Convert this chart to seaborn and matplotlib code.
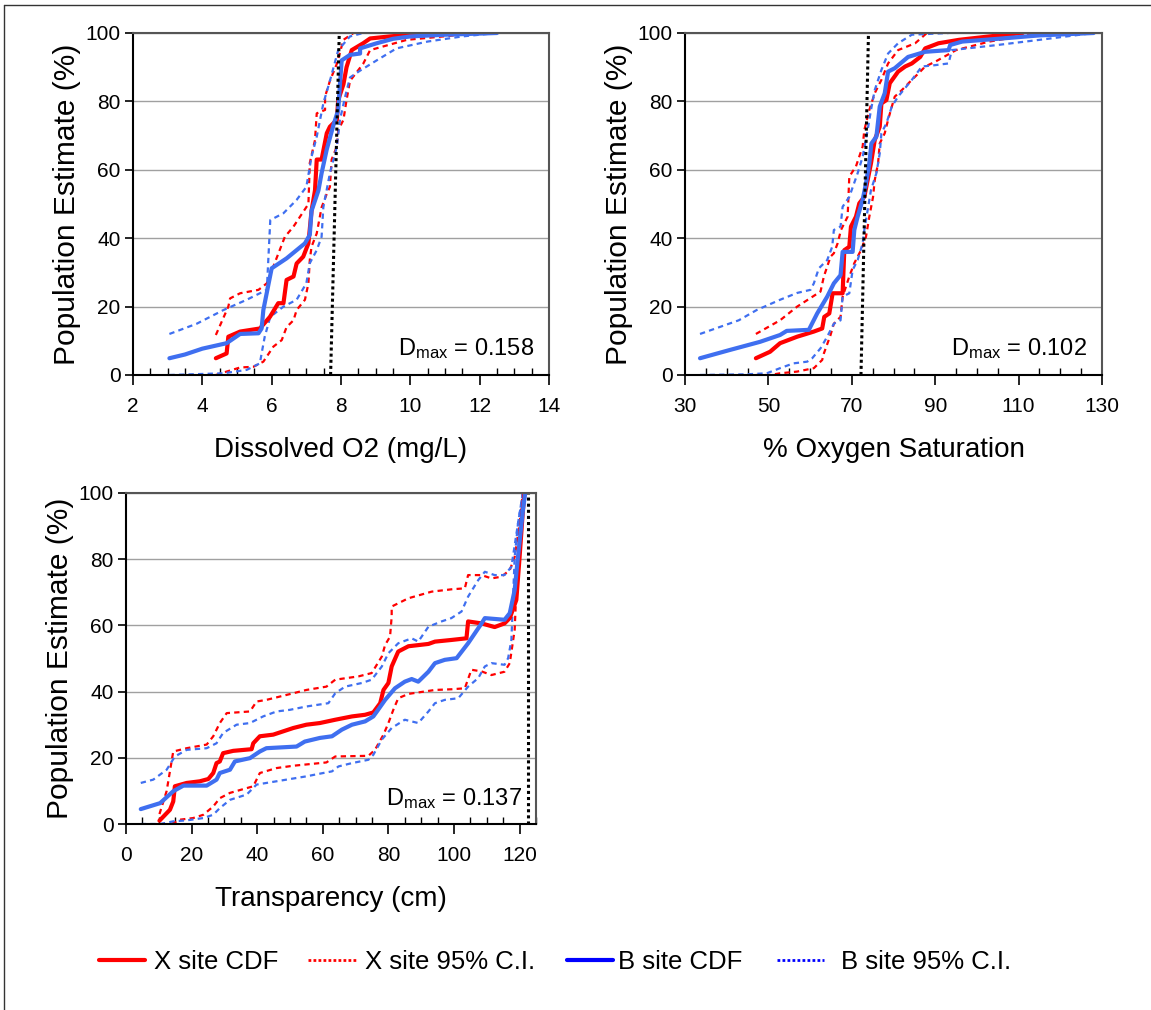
import numpy as np
import pandas as pd
import matplotlib
matplotlib.use("Agg")
import matplotlib.pyplot as plt
import seaborn as sns
from matplotlib.lines import Line2D
from matplotlib.ticker import MultipleLocator, FixedLocator

# ---------------- data: Dissolved O2 (mg/L) ----------------
do_x_cdf_x = [4.39, 4.70, 4.75, 5.09, 5.66, 5.95, 6.19, 6.34, 6.43, 6.63, 6.72, 6.91, 7.06, 7.15, 7.25, 7.30, 7.44, 7.59, 7.68, 7.88, 7.92, 8.07, 8.16, 8.31, 8.64, 8.84, 9.41, 10.0, 11.1]
do_x_cdf_y = [4.9, 6.3, 11.2, 12.7, 13.6, 17, 21, 21, 27.8, 28.8, 32.6, 34.6, 38.5, 48, 54, 63, 63, 70.7, 72.6, 74.6, 80.4, 85, 90, 95, 97, 98.4, 99, 99.5, 100]
do_x_lo_x = [4.39, 4.7, 5.09, 5.47, 5.76, 6.05, 6.29, 6.43, 6.63, 6.72, 6.96, 7.06, 7.1, 7.15, 7.3, 7.44, 7.59, 7.68, 7.73, 7.88, 7.92, 8.07, 8.16, 8.26, 8.64, 8.84, 9.9, 12.0]
do_x_lo_y = [0, 1, 2.2, 2.4, 3.9, 8.3, 10.2, 14, 16, 19, 22, 26.8, 33.6, 37.5, 41.4, 49, 53, 55, 63, 66.8, 71.6, 74.6, 80.4, 86, 91, 95, 98, 100]
do_x_hi_x = [4.39, 4.75, 4.8, 5.09, 5.62, 5.86, 6.38, 6.63, 6.91, 7.06, 7.1, 7.25, 7.3, 7.54, 7.54, 7.68, 7.88, 8.07, 8.36]
do_x_hi_y = [11.7, 20, 22.4, 23.9, 24.9, 26.8, 40.4, 43.4, 47.7, 50, 62, 68.7, 76.5, 77.5, 81.4, 86, 91, 98, 100]
do_b_cdf_x = [3.05, 3.5, 4.0, 4.7, 5.09, 5.62, 5.71, 5.76, 6.0, 6.43, 6.96, 7.1, 7.15, 7.35, 7.44, 7.59, 7.78, 7.92, 7.97, 8.02, 8.26, 8.55, 8.55, 9.03, 9.5, 10.0, 11.0, 12.5]
do_b_cdf_y = [4.9, 6.0, 7.7, 9.3, 12, 12.2, 13.6, 19, 31.2, 34.1, 38.5, 41, 48, 54, 59, 66, 73, 77.5, 85, 92, 93.6, 94, 95.5, 97, 98.3, 99, 99.5, 100]
do_b_lo_x = [3.05, 4.61, 5.28, 5.66, 5.71, 5.8, 5.96, 6.34, 6.72, 7.0, 7.1, 7.3, 7.44, 7.49, 7.68, 7.88, 7.97, 8.12, 8.26, 8.55, 9.03, 9.6, 10.5, 11.5, 12.5]
do_b_lo_y = [0, 0.5, 1.5, 3.4, 6.3, 11.2, 17, 20, 22, 26.8, 32.7, 36.5, 40.4, 49, 59, 66.8, 74.6, 81.4, 87, 89, 92, 95.5, 97.5, 99, 100]
do_b_hi_x = [3.05, 3.84, 4.61, 5.28, 5.86, 5.96, 6.34, 6.72, 7.0, 7.15, 7.3, 7.49, 7.68, 7.92, 8.26, 8.64]
do_b_hi_y = [12, 15, 19, 22, 24.9, 45.3, 47.3, 51.2, 55, 63.8, 69.7, 79.4, 86, 95, 99, 100]
do_dmax_x = [7.70, 7.95]

# ---------------- data: % Oxygen Saturation ----------------
sat_x_cdf_x = [47.0, 50.4, 52.8, 56.9, 60.9, 62.9, 63.4, 64.6, 65.4, 67.8, 68.2, 69.4, 69.8, 71.0, 71.8, 73.0, 73.8, 74.6, 75.5, 76.7, 77.1, 78.3, 79.1, 81.1, 82.8, 84.4, 86.4, 87.6, 90.8, 95.7, 103, 111]
sat_x_cdf_y = [4.9, 6.8, 9.3, 11.2, 12.7, 13.6, 17, 18, 23.9, 23.9, 36.5, 37.5, 43.4, 46.3, 50.2, 52.1, 57, 61.9, 68.7, 72.6, 79.4, 80.4, 85.3, 88.7, 90.2, 91.1, 93, 95.5, 97, 98, 99, 100]
sat_x_lo_x = [47, 50.4, 52.8, 56.9, 60.9, 62.9, 63.3, 64.9, 65.7, 67.3, 67.8, 69.4, 70.6, 72.2, 73.4, 74.2, 75.1, 75.5, 76.3, 76.7, 77.9, 78.7, 79.6, 80.3, 82.0, 84.4, 86, 87.6, 90, 95, 103, 115]
sat_x_lo_y = [0, 0, 0.5, 1, 2, 4.4, 6.3, 11.7, 15, 17, 22.9, 28.8, 32.7, 36.5, 40.4, 46.3, 52.1, 57, 61.9, 67.7, 70.7, 74.6, 78.5, 81.4, 83.3, 86.3, 88.2, 90.2, 91.6, 95, 97.5, 100]
sat_x_hi_x = [47, 52.8, 56.9, 62.5, 63.3, 64.9, 65.7, 66.6, 67.4, 69, 69.4, 71, 72.6, 73, 74.2, 75.5, 77.1, 78.7, 81.1, 85.2, 88]
sat_x_hi_y = [12, 16, 20, 24.4, 28.8, 34.6, 35.6, 38.5, 42.4, 46.3, 58, 61, 66.8, 71.6, 77.5, 82.4, 86.3, 91.1, 95, 97, 100]
sat_b_cdf_x = [33.6, 40.7, 48.0, 52.8, 54.4, 59.7, 61.7, 64.1, 65.7, 67.3, 67.8, 70.2, 70.6, 71.4, 72.6, 73.4, 74.2, 74.7, 75.9, 76.7, 77.9, 78.7, 80.3, 83.5, 87.6, 93.2, 93.6, 96.5, 105, 115, 128]
sat_b_cdf_y = [4.9, 7.3, 9.7, 11.7, 12.9, 13.2, 18, 22.9, 26.8, 29.2, 36, 36, 42.4, 46.3, 51.2, 56, 61.9, 67.7, 69.7, 78.5, 82.4, 88.7, 89.7, 93, 94.5, 95, 96.5, 97.5, 98.3, 99.3, 100]
sat_b_lo_x = [33.6, 44.7, 49.6, 52.8, 56, 59.3, 60.5, 62.5, 64.1, 65.7, 67.3, 67.8, 69.4, 70.2, 71.4, 72.6, 73, 73.8, 74.6, 75.9, 76.7, 77.1, 78.3, 79.6, 81.1, 84.4, 86.8, 90, 93.2, 94, 105, 115, 128]
sat_b_lo_y = [0, 0.2, 0.5, 2, 3.4, 3.9, 4.9, 7.8, 11.2, 15, 16, 22.9, 23.9, 30.7, 33.6, 38.5, 42.4, 48.2, 54.1, 59, 64.8, 70.7, 73.6, 78.5, 81.4, 86.3, 90.2, 90.6, 91.1, 95, 96.5, 98, 100]
sat_b_hi_x = [33.6, 42.9, 47.2, 52.8, 56.9, 60.1, 60.9, 62.1, 64.1, 65.3, 65.7, 67.3, 67.8, 69.4, 71.4, 72.6, 73.8, 74.6, 75.5, 77.1, 78.7, 81.1, 84.4, 93.2]
sat_b_hi_y = [12, 16, 19, 22, 24, 24.9, 26.8, 31.2, 33.6, 37.5, 42.4, 43.4, 49.2, 52.1, 59, 63.8, 71.6, 77.5, 83.3, 89.2, 94, 97, 99.5, 100]
sat_dmax_x = [72.2, 74.0]

# ---------------- data: Transparency (cm) ----------------
tr_x_cdf_x = [10.2, 13.4, 14.4, 14.9, 18.5, 22.5, 25.1, 26.6, 27.6, 28.6, 29.6, 32.7, 38.3, 38.8, 40.8, 44.9, 51, 55, 59.1, 63.8, 68.9, 72.9, 75.4, 77.5, 78.5, 80, 81, 83, 86.1, 92.2, 94.2, 99.2, 103.8, 104.3, 108.4, 112.4, 115.4, 117, 119, 120, 121, 121.5]
tr_x_cdf_y = [1, 4.3, 6.8, 11.4, 12.4, 12.9, 13.6, 15.4, 18.4, 18.9, 21.4, 22.1, 22.6, 24.4, 26.5, 27, 29, 30, 30.5, 31.5, 32.5, 33, 33.7, 36.5, 40.5, 42.6, 47.6, 52.1, 53.7, 54.4, 55.1, 55.6, 56.1, 61.2, 60.6, 59.5, 60.6, 62.2, 67.7, 80.7, 94.7, 100]
tr_x_lo_x = [13.9, 16.4, 20.5, 23.6, 26.6, 28.6, 31.7, 38.8, 40.8, 45.9, 51, 57.1, 61.1, 63.8, 73.9, 75.9, 78.5, 80, 81.5, 83, 86.1, 94.2, 99.2, 103.3, 105.3, 108.4, 111.4, 115.4, 117, 118.5, 119, 120, 121]
tr_x_lo_y = [0, 1.3, 1.8, 2.8, 5.3, 7.8, 9.4, 11.4, 15.4, 16.9, 17.6, 18.2, 18.6, 20.4, 20.6, 22.4, 27, 30.5, 34.5, 38, 39.3, 40.5, 40.7, 41, 46.6, 46.1, 45, 46, 48.6, 58.7, 70.7, 90.7, 100]
tr_x_hi_x = [10.2, 12.4, 14.4, 18.5, 24.6, 26.6, 28.6, 30.7, 37.8, 39.8, 42.8, 51, 55, 61.1, 63.8, 70.9, 74.9, 78, 79, 80.5, 81, 81, 86.1, 93.2, 99.2, 103.3, 104.3, 108.4, 111.4, 114.4, 117, 118.5, 120, 121]
tr_x_hi_y = [3, 10, 21.9, 22.9, 24, 26.5, 30.5, 33.5, 34, 37, 37.5, 39.5, 40.5, 41.5, 43.6, 44.6, 45.6, 50.6, 54.1, 56.6, 62.7, 65.7, 68.2, 70.2, 70.9, 71.2, 75.2, 75.2, 74.2, 74.7, 76.7, 80.7, 90.7, 100]
tr_b_cdf_x = [4.5, 10.4, 14.4, 17.5, 24.6, 27.6, 28.6, 31.7, 33.2, 37.8, 40.8, 42.8, 52, 54.5, 59.1, 62.8, 65.8, 68.9, 72.9, 75.4, 76.5, 79, 82, 85, 87.1, 89.1, 92.2, 94.2, 97.2, 100.8, 104.3, 108.4, 109.4, 115.4, 117, 118.5, 119.5, 121, 121.7]
tr_b_cdf_y = [4.5, 6.3, 9.9, 11.6, 11.6, 13.4, 15.4, 16.4, 18.9, 19.9, 21.9, 22.9, 23.4, 24.9, 26, 26.5, 28.5, 30, 31, 32.5, 34, 37.5, 41, 43, 43.8, 43, 46, 48.6, 49.6, 50.1, 54.6, 60.6, 62.2, 61.7, 63.7, 70.7, 80.7, 94.7, 100]
tr_b_lo_x = [4.5, 10.4, 14.4, 18.5, 23.6, 26.6, 28.6, 31.7, 36.8, 39.8, 42.8, 48.9, 55, 60.1, 62.8, 64.8, 68.9, 73.9, 75.4, 78, 81, 85, 89.1, 92.2, 94.2, 97.2, 101.3, 104.3, 107.4, 109.4, 111.4, 115.4, 116.5, 117.5, 118.5, 119.5, 121]
tr_b_lo_y = [0, 0, 0.8, 1.1, 1.8, 2.8, 4.8, 7.3, 8.9, 11.9, 12.4, 13.4, 14.4, 15.4, 15.9, 17.4, 18.4, 19.4, 20.9, 25.5, 29, 31.5, 30.5, 34, 36.5, 37.5, 38, 41.5, 44.1, 47.6, 48.6, 48.1, 50.1, 55.6, 80.7, 90.7, 100]
tr_b_hi_x = [4.5, 8.3, 12.4, 14.9, 18.5, 24.6, 27.6, 29.6, 33.7, 37.8, 41.8, 45.9, 50, 55, 61.7, 63.8, 66.8, 71.9, 74.9, 78, 80, 83, 87.1, 89.1, 92.2, 96.2, 99.2, 102.3, 104.3, 107.4, 109.4, 112.4, 115.4, 117.5, 119.5, 121]
tr_b_hi_y = [12.4, 13.4, 16.4, 20.4, 22.4, 22.9, 24.4, 27.5, 30, 30.5, 32.5, 34, 34.5, 35.5, 36.5, 39.5, 41.5, 42.6, 43.6, 47.6, 51.6, 54.6, 56.1, 55.1, 59.6, 61.2, 62.2, 64.2, 68.7, 73.7, 76.2, 75.2, 75.2, 77.7, 90.7, 100]
tr_dmax_x = [122.7, 122.7]

dmax_y = [0, 100]
dmax_labels = ["0.158", "0.102", "0.137"]
x_labels = ["Dissolved O2 (mg/L)", "% Oxygen Saturation", "Transparency (cm)"]
x_ticks_do = [2, 4, 6, 8, 10, 12, 14]
x_ticks_sat = [30, 50, 70, 90, 110, 130]
x_ticks_tr = [0, 20, 40, 60, 80, 100, 120]
y_ticks = [0, 20, 40, 60, 80, 100]
y_label = "Population Estimate (%)"
legend_labels = ["X site CDF", "X site 95% C.I.", "B site CDF", "B site 95% C.I."]

# ---------------- style ----------------
sns.set_theme(style="white")
plt.rcParams['font.family'] = ['Liberation Sans', 'DejaVu Sans']
plt.rcParams['mathtext.fontset'] = 'custom'
plt.rcParams['mathtext.rm'] = 'Liberation Sans'
plt.rcParams['text.color'] = 'black'
plt.rcParams['axes.labelcolor'] = 'black'
plt.rcParams['xtick.color'] = 'black'
plt.rcParams['ytick.color'] = 'black'

RED = "#FF0000"
BLUE = "#3F6FF0"
DASH = (0, (2.4, 1.9))

fig = plt.figure(figsize=(11.51, 10.10), dpi=100)
W, H = 1151.0, 1010.0

def px_axes(l, t, r, b):
    return fig.add_axes([l / W, 1 - b / H, (r - l) / W, (b - t) / H])

ax1 = px_axes(133, 33, 549, 375)
ax2 = px_axes(685, 33, 1102, 375)
ax3 = px_axes(126, 493, 536, 824)

panels = [
    (ax1, (do_x_cdf_x, do_x_cdf_y), (do_x_lo_x, do_x_lo_y), (do_x_hi_x, do_x_hi_y),
     (do_b_cdf_x, do_b_cdf_y), (do_b_lo_x, do_b_lo_y), (do_b_hi_x, do_b_hi_y), do_dmax_x,
     (2, 14), x_ticks_do, 0.5),
    (ax2, (sat_x_cdf_x, sat_x_cdf_y), (sat_x_lo_x, sat_x_lo_y), (sat_x_hi_x, sat_x_hi_y),
     (sat_b_cdf_x, sat_b_cdf_y), (sat_b_lo_x, sat_b_lo_y), (sat_b_hi_x, sat_b_hi_y), sat_dmax_x,
     (30, 130), x_ticks_sat, 5),
    (ax3, (tr_x_cdf_x, tr_x_cdf_y), (tr_x_lo_x, tr_x_lo_y), (tr_x_hi_x, tr_x_hi_y),
     (tr_b_cdf_x, tr_b_cdf_y), (tr_b_lo_x, tr_b_lo_y), (tr_b_hi_x, tr_b_hi_y), tr_dmax_x,
     (0, 125), x_ticks_tr, 5),
]

def draw(ax, xy, color, lw, ls):
    sns.lineplot(x=np.array(xy[0], float), y=np.array(xy[1], float), ax=ax,
                 sort=False, estimator=None, color=color, linewidth=lw,
                 linestyle=ls, legend=False)

for i, (ax, xc, xl, xh, bc, bl, bh, dmx, xlim, xticks, minor) in enumerate(panels):
    ax.yaxis.grid(True, color="#A0A0A0", linewidth=1.0)
    ax.set_axisbelow(True)
    draw(ax, xl, RED, 1.6, DASH)
    draw(ax, xh, RED, 1.6, DASH)
    draw(ax, bl, BLUE, 1.6, DASH)
    draw(ax, bh, BLUE, 1.6, DASH)
    draw(ax, xc, RED, 3.0, "-")
    draw(ax, bc, BLUE, 3.0, "-")
    draw(ax, (dmx, dmax_y), "black", 2.2, (0, (1, 1)))
    ax.set_xlim(*xlim)
    ax.set_ylim(0, 100)
    ax.xaxis.set_major_locator(FixedLocator(xticks))
    ax.xaxis.set_minor_locator(MultipleLocator(minor))
    ax.yaxis.set_major_locator(FixedLocator(y_ticks))
    ax.tick_params(axis="x", which="major", direction="out", length=7, width=1.2,
                   color="black", labelcolor="black", labelsize=15, pad=9, bottom=True)
    ax.tick_params(axis="x", which="minor", direction="in", length=5, width=1.0,
                   color="black", bottom=True)
    ax.tick_params(axis="y", which="major", direction="out", length=6, width=1.2,
                   color="black", labelcolor="black", labelsize=15, pad=3, left=True)
    for s in ["left", "bottom"]:
        ax.spines[s].set_color("black")
        ax.spines[s].set_linewidth(1.5)
    for s in ["top", "right"]:
        ax.spines[s].set_color("#555555")
        ax.spines[s].set_linewidth(1.5)
    ax.set_xlabel(x_labels[i], fontsize=20, labelpad=15, color="black")
    ax.set_ylabel(y_label, fontsize=21.5, labelpad=3, color="black")
    ax.text(0.965, 0.04, r"$\mathregular{D_{max}}$ = " + dmax_labels[i],
            transform=ax.transAxes, ha="right", va="bottom", fontsize=17, color="black")

# outer frame (top and left edges)
fig.add_artist(Line2D([4 / W, 4 / W], [0, 1 - 5 / H], color="#333333", linewidth=1.0))
fig.add_artist(Line2D([4 / W, 1], [1 - 5 / H, 1 - 5 / H], color="#333333", linewidth=1.0))

# legend: four separate entries placed along the bottom
handles = [
    Line2D([], [], color="#FF0000", linewidth=3.0),
    Line2D([], [], color="#FF0000", linewidth=2.0, linestyle=(0, (1, 0.8))),
    Line2D([], [], color="#0000FF", linewidth=3.0),
    Line2D([], [], color="#0000FF", linewidth=2.0, linestyle=(0, (1, 0.8))),
]
leg_fs = 18.5
fs_px = leg_fs * 100 / 72.0
leg_start = [99, 308, 567, 777]
leg_handle_px = [46, 48, 46, 47]
leg_gap_px = [9, 9, 5, 17]
for h, lab, x0, hl, gp in zip(handles, legend_labels, leg_start, leg_handle_px, leg_gap_px):
    fig.legend([h], [lab], loc="center left", bbox_to_anchor=(x0 / W, 1 - 962 / H),
               frameon=False, fontsize=leg_fs, handlelength=hl / fs_px,
               handletextpad=gp / fs_px, borderpad=0, borderaxespad=0,
               labelcolor="black")

fig.savefig("out.png", dpi=100)
